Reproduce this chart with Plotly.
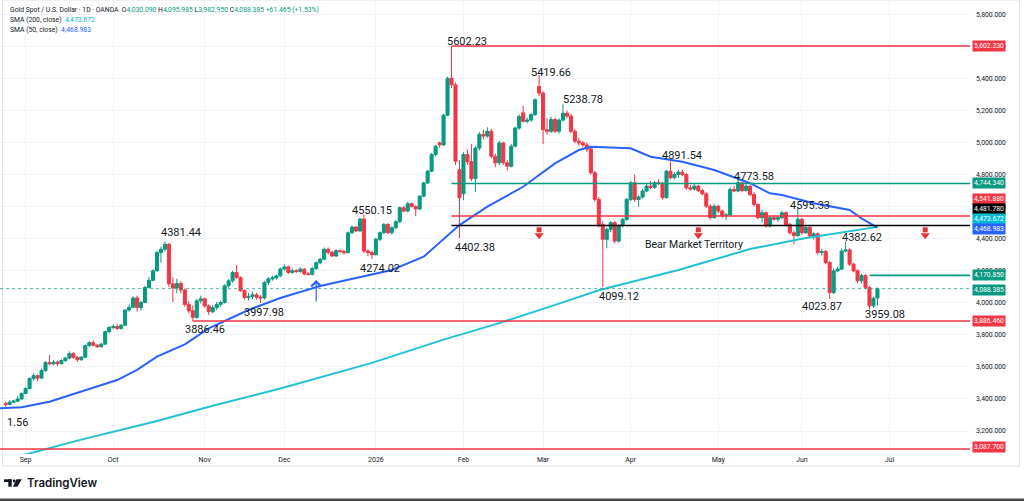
import pandas as pd
import plotly.graph_objects as go

# Gold Spot / U.S. Dollar, OANDA daily candles, weekdays 25 Aug 2025 - 26 Jun 2026
dates = pd.bdate_range("2025-08-25", "2026-06-26")

opens = [
    3372, 3366, 3380, 3386, 3400,  # Aug
    3434, 3465, 3527, 3546, 3530, 3577, 3627, 3620, 3630, 3620, 3640, 3655, 3683, 3660, 3645, 3660,
    3733, 3751, 3735, 3726, 3742, 3820,  # Sep
    3846, 3852, 3840, 3860, 3955, 3972, 4030, 3971, 4002, 4095, 4140, 4199, 4313, 4334, 4365, 4118,
    4093, 4120, 4080, 3990, 3950, 3909, 4012,  # Oct
    4025, 3980, 3944, 3970, 3990, 4002, 4106, 4137, 4189, 4157, 4075, 4033, 4040, 4050, 4035, 4030,
    4126, 4149, 4155, 4168,  # Nov
    4211, 4224, 4189, 4200, 4195, 4210, 4180, 4178, 4213, 4250, 4272, 4334, 4315, 4292, 4325, 4320,
    4313, 4437, 4473, 4448, 4522, 4323, 4313,  # Dec
    4300, 4396, 4437, 4489, 4437, 4468, 4506, 4593, 4572, 4618, 4600, 4585, 4665, 4748, 4821, 4925,
    4998, 4985, 5170, 5401, 5360, 4830,  # Jan
    4680, 4925, 4880, 4775, 4965, 5051, 5040, 5070, 4914, 4873, 4997, 4873, 4852, 4977, 5090, 5185,
    5132, 5140, 5174, 5350,  # Feb
    5308, 5080, 5070, 5143, 5070, 5140, 5183, 5165, 5070, 5008, 4997, 4985, 4960, 4811, 4645, 4489,
    4396, 4458, 4500, 4385, 4480, 4520,  # Mar
    4645, 4749, 4645, 4660, 4697, 4728, 4720, 4749, 4745, 4656, 4821, 4780, 4800, 4815, 4800, 4717,
    4710, 4728, 4700, 4680, 4603, 4531,  # Apr
    4603, 4572, 4541, 4548, 4707, 4697, 4749, 4700, 4728, 4676, 4614, 4531, 4562, 4479, 4531, 4521,
    4531, 4562, 4489, 4437, 4420,  # May
    4521, 4437, 4470, 4417, 4430, 4313, 4320, 4251, 4064, 4199, 4210, 4323, 4330, 4241, 4199, 4137,
    4170, 4095, 3981, 4030.09,  # Jun
]
highs = [
    3380, 3392, 3394, 3418, 3440,
    3472, 3535, 3560, 3552, 3590, 3636, 3674, 3642, 3638, 3648, 3662, 3697, 3692, 3668, 3668, 3740,
    3760, 3765, 3745, 3750, 3826, 3855,
    3866, 3870, 3866, 3960, 3990, 4040, 4045, 4012, 4105, 4160, 4210, 4325, 4350, 4381.44, 4372, 4160,
    4150, 4135, 4090, 4010, 3985, 4025, 4045,
    4032, 3990, 3985, 4005, 4015, 4115, 4148, 4200, 4235, 4165, 4085, 4060, 4068, 4062, 4048, 4135,
    4160, 4168, 4175, 4220,
    4240, 4232, 4215, 4210, 4222, 4216, 4192, 4225, 4258, 4280, 4345, 4345, 4325, 4335, 4333, 4330,
    4445, 4482, 4480, 4530, 4550.15, 4335, 4325,
    4405, 4445, 4498, 4496, 4478, 4515, 4600, 4605, 4630, 4625, 4608, 4672, 4755, 4830, 4935, 4985,
    5005, 5180, 5410, 5602.23, 5375, 4890,
    4940, 4958, 4990, 4975, 5065, 5080, 5095, 5085, 4930, 5010, 5005, 4890, 4990, 5100, 5175, 5230,
    5155, 5185, 5275, 5419.66,
    5320, 5150, 5160, 5155, 5150, 5238.78, 5200, 5180, 5085, 5030, 5010, 5000, 4975, 4825, 4660, 4510,
    4470, 4510, 4510, 4490, 4530, 4655,
    4760, 4800, 4670, 4710, 4740, 4760, 4760, 4770, 4755, 4830, 4891.54, 4815, 4830, 4830, 4810, 4735,
    4740, 4735, 4710, 4690, 4615, 4615,
    4610, 4580, 4560, 4720, 4730, 4773.58, 4755, 4740, 4735, 4690, 4620, 4580, 4570, 4545, 4545, 4540,
    4575, 4570, 4500, 4450, 4595.33,
    4530, 4480, 4478, 4440, 4440, 4335, 4330, 4260, 4215, 4225, 4340, 4382.62, 4340, 4250, 4210, 4180,
    4178, 4105, 4038, 4095.985,
]
lows = [
    3341.56, 3360, 3372, 3380, 3395,
    3428, 3460, 3515, 3510, 3525, 3570, 3612, 3610, 3605, 3615, 3632, 3648, 3650, 3630, 3638, 3655,
    3725, 3728, 3718, 3720, 3738, 3810,
    3835, 3830, 3832, 3855, 3945, 3966, 3945, 3950, 3998, 4090, 4135, 4195, 4250, 4320, 4100, 4005,
    4060, 4060, 3975, 3935, 3886.46, 3900, 3995,
    3970, 3925, 3935, 3955, 3975, 3995, 4095, 4125, 4150, 4070, 4020, 4015, 4022, 4020, 3997.98, 4020,
    4110, 4138, 4145, 4160,
    4200, 4180, 4182, 4185, 4188, 4172, 4170, 4170, 4205, 4240, 4265, 4300, 4285, 4285, 4310, 4300,
    4308, 4430, 4440, 4440, 4310, 4290, 4274.02,
    4295, 4385, 4430, 4430, 4425, 4460, 4498, 4565, 4565, 4595, 4540, 4578, 4658, 4740, 4815, 4915,
    4968, 4980, 5165, 5340, 4860, 4402.38,
    4640, 4860, 4760, 4690, 4950, 5020, 5030, 4900, 4845, 4860, 4860, 4825, 4845, 4970, 5080, 5125,
    5120, 5130, 5165, 5290,
    4990, 5050, 5060, 5060, 5055, 5130, 5150, 5060, 4995, 4980, 4970, 4940, 4800, 4630, 4470, 4099.12,
    4340, 4440, 4370, 4375, 4470, 4510,
    4635, 4630, 4600, 4650, 4690, 4710, 4712, 4735, 4645, 4650, 4770, 4770, 4780, 4790, 4705, 4700,
    4700, 4690, 4670, 4590, 4520, 4525,
    4560, 4530, 4515, 4540, 4690, 4690, 4690, 4695, 4665, 4600, 4520, 4500, 4470, 4470, 4510, 4505,
    4520, 4480, 4425, 4365, 4410,
    4425, 4430, 4405, 4395, 4300, 4295, 4240, 4023.87, 4055, 4190, 4205, 4315, 4230, 4190, 4125, 4120,
    4085, 3959.08, 3968, 3982.95,
]
closes = [
    3366, 3380, 3386, 3400, 3434,
    3465, 3527, 3546, 3530, 3577, 3627, 3620, 3630, 3620, 3640, 3655, 3683, 3660, 3645, 3660, 3733,
    3751, 3735, 3726, 3742, 3820, 3846,
    3852, 3840, 3860, 3955, 3972, 4030, 3971, 4002, 4095, 4140, 4199, 4313, 4334, 4365, 4118, 4093,
    4120, 4080, 3990, 3950, 3909, 4012, 4025,
    3980, 3944, 3970, 3990, 4002, 4106, 4137, 4189, 4157, 4075, 4033, 4040, 4050, 4035, 4030, 4126,
    4149, 4155, 4168, 4211,
    4224, 4189, 4200, 4195, 4210, 4180, 4178, 4213, 4250, 4272, 4334, 4315, 4292, 4325, 4320, 4313,
    4437, 4473, 4448, 4522, 4323, 4313, 4300,
    4396, 4437, 4489, 4437, 4468, 4506, 4593, 4572, 4618, 4600, 4585, 4665, 4748, 4821, 4925, 4977,
    4985, 5170, 5401, 5360, 4883, 4655,
    4925, 4880, 4775, 4965, 5051, 5040, 5070, 4914, 4873, 4997, 4873, 4852, 4977, 5090, 5163, 5132,
    5140, 5174, 5267, 5308,
    5080, 5070, 5143, 5070, 5140, 5183, 5165, 5070, 5008, 4997, 4985, 4960, 4811, 4645, 4489, 4396,
    4458, 4500, 4385, 4480, 4520, 4645,
    4749, 4645, 4660, 4697, 4728, 4720, 4749, 4745, 4656, 4821, 4780, 4800, 4815, 4800, 4717, 4710,
    4728, 4700, 4680, 4603, 4531, 4603,
    4572, 4541, 4548, 4707, 4697, 4749, 4700, 4728, 4676, 4614, 4531, 4562, 4479, 4531, 4521, 4531,
    4562, 4489, 4437, 4420, 4521,
    4437, 4470, 4417, 4430, 4313, 4320, 4251, 4064, 4199, 4210, 4323, 4330, 4241, 4199, 4137, 4170,
    4095, 3981, 4028, 4088.385,
]
for series in (opens, highs, lows, closes):
    assert len(series) == len(dates), len(series)

# moving averages
sma200_dates = ["2025-08-28", "2025-09-18", "2025-10-16", "2025-11-05", "2025-11-28", "2025-12-31",
                "2026-01-26", "2026-02-13", "2026-03-06", "2026-03-20", "2026-04-17", "2026-05-13",
                "2026-06-01", "2026-06-26"]
sma200 = [3040, 3140, 3262, 3358, 3465, 3625, 3770, 3873, 3995, 4078, 4205, 4335, 4400, 4473.672]

sma50_dates = ["2025-08-21", "2025-08-29", "2025-09-09", "2025-09-18", "2025-09-25", "2025-10-02",
               "2025-10-09", "2025-10-16", "2025-10-27", "2025-11-04", "2025-11-18", "2025-11-28",
               "2025-12-12", "2025-12-26", "2026-01-07", "2026-01-19", "2026-01-23", "2026-01-30",
               "2026-02-10", "2026-02-23", "2026-03-05", "2026-03-13", "2026-03-18", "2026-03-24",
               "2026-04-01", "2026-04-08", "2026-04-20", "2026-04-30", "2026-05-13", "2026-05-20",
               "2026-05-25", "2026-06-04", "2026-06-17", "2026-06-22", "2026-06-26"]
sma50 = [3342, 3348, 3383, 3439, 3476, 3518, 3581, 3664, 3740, 3840, 3955, 4030, 4105, 4163, 4205,
         4288, 4373, 4485, 4600, 4724, 4870, 4953, 4974, 4970, 4964, 4911, 4880, 4828, 4746, 4683,
         4673, 4621, 4579, 4527, 4468.983]

# time axis
month_ticks = ["2025-09-01", "2025-10-01", "2025-11-03", "2025-12-01", "2026-01-01", "2026-02-02",
               "2026-03-02", "2026-04-01", "2026-05-01", "2026-06-01", "2026-07-01"]
month_labels = ["Sep", "Oct", "Nov", "Dec", "2026", "Feb", "Mar", "Apr", "May", "Jun", "Jul"]

# price notes written on the chart
note_labels = ["5602.23", "5419.66", "5238.78", "4402.38", "4891.54", "4773.58", "4595.33", "4382.62",
               "4023.87", "3959.08", "4099.12", "4550.15", "4274.02", "4381.44", "3997.98", "3886.46"]

# horizontal levels
level_prices = [5602.23, 4744.34, 4541.88, 4481.78, 4170.85, 3886.46, 3087.70]
last_price = 4088.385

UP = "#089981"
DOWN = "#f23645"
CYAN = "#22c1d6"
BLUE = "#2962ff"
TEXT = "#131722"

PLOT_W, PLOT_H = 970, 454


def px_x(px):
    return px / PLOT_W


def px_y(py):
    return 1 - py / PLOT_H


fig = go.Figure()

fig.add_trace(go.Candlestick(
    x=dates, open=opens, high=highs, low=lows, close=closes,
    increasing=dict(line=dict(color=UP, width=1), fillcolor=UP),
    decreasing=dict(line=dict(color=DOWN, width=1), fillcolor=DOWN),
    whiskerwidth=0, hoverinfo="skip", showlegend=False,
))
fig.add_trace(go.Scatter(x=sma200_dates, y=sma200, mode="lines",
                         line=dict(color=CYAN, width=2), hoverinfo="skip"))
fig.add_trace(go.Scatter(x=sma50_dates, y=sma50, mode="lines",
                         line=dict(color=BLUE, width=2), hoverinfo="skip"))

# red "down" arrows along the bear market line
arrow_dates = ["2026-02-27", "2026-04-24", "2026-07-14"]
fig.add_trace(go.Scatter(x=arrow_dates, y=[4455] * 3, mode="markers",
                         marker=dict(symbol="square", size=5, color="#e0353d"), hoverinfo="skip"))
fig.add_trace(go.Scatter(x=arrow_dates, y=[4421] * 3, mode="markers",
                         marker=dict(symbol="triangle-down", size=8, color="#e0353d"), hoverinfo="skip"))

# horizontal levels
level_style = [
    ("2026-01-28", DOWN), ("2026-01-28", UP), ("2026-01-28", DOWN), ("2026-01-28", "#000000"),
    ("2026-06-24", UP), ("2025-10-29", DOWN), ("2025-08-01", DOWN),
]
for price, (start, color) in zip(level_prices, level_style):
    fig.add_shape(type="line", xref="x", yref="y", x0=start, x1="2026-12-31",
                  y0=price, y1=price, line=dict(color=color, width=1.6))
fig.add_shape(type="line", xref="paper", yref="y", x0=0, x1=1, y0=last_price, y1=last_price,
              line=dict(color="rgba(8,153,129,0.7)", width=1, dash="dot"))

annotations = []

# price notes
note_pos = [
    ("2026-02-03", 5633), ("2026-03-04", 5437), ("2026-03-16", 5268), ("2026-02-05", 4345),
    ("2026-04-20", 4916), ("2026-05-14", 4791), ("2026-06-03", 4604), ("2026-06-22", 4407),
    ("2026-06-08", 3974), ("2026-06-30", 3927), ("2026-03-27", 4042), ("2025-12-31", 4573),
    ("2026-01-02", 4211), ("2025-10-24", 4439), ("2025-11-24", 3939), ("2025-11-03", 3836),
]
for label, (d, p) in zip(note_labels, note_pos):
    annotations.append(dict(x=d, y=p, xref="x", yref="y", text=label, showarrow=False,
                            font=dict(size=11, color=TEXT)))
annotations.append(dict(x=px_x(5), y=3256, xref="paper", yref="y", text="1.56", xanchor="left",
                        showarrow=False, font=dict(size=11, color=TEXT)))
annotations.append(dict(x="2026-04-23", y=4364, xref="x", yref="y", text="Bear Market Territory",
                        showarrow=False, font=dict(size=10.5, color=TEXT)))

# blue up arrow
annotations.append(dict(x="2025-12-11", y=4142, xref="x", yref="y", text="", showarrow=True,
                        ax=0, ay=23, arrowhead=4, arrowsize=1.6, arrowwidth=1.2, arrowcolor=BLUE))

# price tags on the right scale: (text, price, colour, shift)
tags = [
    ("5,602.230", 5602.23, DOWN, 0), ("4,744.340", 4744.34, UP, 0),
    ("4,541.880", 4541.88, DOWN, 16.6), ("4,481.780", 4481.78, "#000000", 16.6),
    ("4,473.672", 4473.672, "#00bcd4", 8.2), ("4,468.983", 4468.983, BLUE, -1),
    ("4,170.850", 4170.85, UP, 0), ("4,088.385", 4088.385, UP, -1),
    ("3,886.460", 3886.46, DOWN, 0), ("3,087.700", 3087.70, DOWN, 2),
]
for text, price, color, shift in tags:
    annotations.append(dict(x=px_x(972), y=price, xref="paper", yref="y", text=text,
                            xanchor="left", yanchor="middle", yshift=shift, showarrow=False,
                            bgcolor=color, borderpad=1, font=dict(size=6.8, color="white")))

# legend header
green = "<span style='color:%s'>%%s</span>" % UP
header = [
    "Gold Spot / U.S. Dollar · 1D · OANDA &nbsp;O" + green % "4,030.090" + " H" + green % "4,095.985"
    + " L" + green % "3,982.950" + " C" + green % "4,088.385" + " " + green % "+61.465 (+1.53%)",
    "SMA (200, close) &nbsp;<span style='color:#00bcd4'>4,473.672</span>",
    "SMA (50, close) &nbsp;<span style='color:%s'>4,468.983</span>" % BLUE,
]
for k, line in enumerate(header):
    annotations.append(dict(x=px_x(7.5), y=px_y(10 + 10 * k), xref="paper", yref="paper",
                            text=line, xanchor="left", yanchor="middle", showarrow=False,
                            font=dict(size=6.8, color=TEXT)))

# TradingView wordmark
annotations.append(dict(x=px_x(25), y=px_y(483), xref="paper", yref="paper", text="TradingView",
                        xanchor="left", yanchor="middle", showarrow=False,
                        font=dict(family="Inter", size=11.5, color=TEXT, weight=600)))

shapes = [
    # chart frame
    dict(type="rect", xref="paper", yref="paper", x0=px_x(2.5), x1=px_x(1019.5), y0=px_y(466),
         y1=1, line=dict(color="#e0e3eb", width=1), fillcolor="rgba(0,0,0,0)", layer="below"),
    # bottom strip
    dict(type="rect", xref="paper", yref="paper", x0=0, x1=px_x(1024), y0=px_y(501), y1=px_y(498.5),
         line=dict(width=0), fillcolor="#4a4a4a"),
    # logo
    dict(type="rect", xref="paper", yref="paper", x0=px_x(4), x1=px_x(11.7), y0=px_y(482),
         y1=px_y(479.3), line=dict(width=0), fillcolor=TEXT),
    dict(type="rect", xref="paper", yref="paper", x0=px_x(8.3), x1=px_x(11.7), y0=px_y(486.7),
         y1=px_y(479.3), line=dict(width=0), fillcolor=TEXT),
    dict(type="circle", xref="paper", yref="paper", x0=px_x(12.8), x1=px_x(15.6), y0=px_y(482.4),
         y1=px_y(479.6), line=dict(width=0), fillcolor=TEXT),
    dict(type="path", xref="paper", yref="paper", line=dict(width=0), fillcolor=TEXT,
         path="M %f,%f L %f,%f L %f,%f L %f,%f Z" % (
             px_x(16.5), px_y(479.3), px_x(21.8), px_y(479.3),
             px_x(17.4), px_y(486.7), px_x(13.0), px_y(486.7))),
]
for s in shapes:
    fig.add_shape(**s)

fig.update_layout(
    width=1024, height=501,
    margin=dict(l=0, r=1024 - PLOT_W, t=0, b=501 - PLOT_H),
    paper_bgcolor="white", plot_bgcolor="white",
    font=dict(family="Roboto, sans-serif", color=TEXT),
    showlegend=False, hovermode=False,
    boxgap=0.15, boxgroupgap=0.1,
    annotations=annotations,
    xaxis=dict(
        type="date",
        range=["2025-08-21 13:40", "2026-07-29 06:00"],
        rangebreaks=[dict(bounds=["sat", "mon"])],
        rangeslider=dict(visible=False),
        tickvals=month_ticks, ticktext=month_labels,
        tickfont=dict(size=7, color=TEXT),
        showgrid=True, gridcolor="#f0f3fa", zeroline=False, showline=False, ticks="",
    ),
    yaxis=dict(
        side="right", range=[3056.5, 5889.2], dtick=200, tick0=0, tickformat=",.3f",
        tickfont=dict(size=6.8, color=TEXT), ticklabelstandoff=5,
        showgrid=True, gridcolor="#f0f3fa", zeroline=False, showline=False, ticks="",
    ),
)

# the page's default body margin would push the chart 8px down and right
fig.write_html("out.html", config={"displayModeBar": False},
               post_script="document.body.style.margin = '0px';")
